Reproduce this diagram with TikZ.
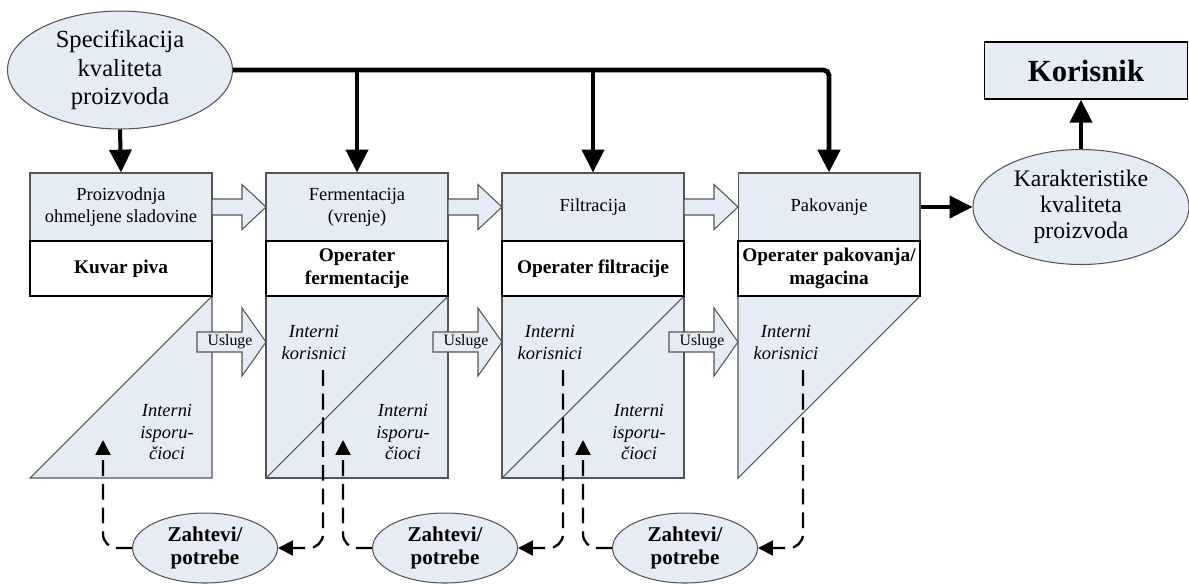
\documentclass[tikz,border=0pt]{standalone}
\usepackage{fontspec}
\setmainfont{Liberation Serif}
\usetikzlibrary{arrows.meta,positioning,calc,shapes.geometric}
\definecolor{boxfill}{RGB}{230,236,246}
\definecolor{boxline}{RGB}{85,85,85}
\tikzset{>=latex}
\tikzset{
  procbox/.style={draw=boxline, line width=0.6pt, fill=boxfill, minimum width=3.64cm, minimum height=1.36cm,
    inner sep=0pt, align=center, font=\fontsize{10.5}{12.5}\selectfont},
  oprbox/.style={draw=black, line width=1.5pt, fill=white, minimum width=3.64cm, minimum height=1.1cm,
    inner sep=0pt, align=center, font=\bfseries\fontsize{11}{13}\selectfont},
  lowpart/.style={draw=boxline, line width=0.6pt, fill=boxfill},
  blockarrow/.style={draw=boxline, line width=0.6pt, fill=boxfill},
  ellnode/.style={ellipse, draw=boxline, line width=0.6pt, fill=boxfill, inner sep=0pt, align=center},
  intxt/.style={align=center, font=\itshape\fontsize{10.5}{12.5}\selectfont},
  thickarrow/.style={line width=2.3pt, -{Triangle[length=13pt,width=12.5pt]}},
  dasharrow/.style={line width=1.3pt, dash pattern=on 9pt off 4.5pt, rounded corners=8pt,
    -{Triangle[length=8.5pt,width=8.5pt]}}
}

\begin{document}
\begin{tikzpicture}[x=0.02cm, y=-0.02cm]
    \useasboundingbox (0,0) rectangle (1189,583);

    % Lower parts of the columns
    \draw[lowpart] (212,296) -- (212,478) -- (30,478) -- cycle;
    \draw[lowpart] (266,296) rectangle (448,478);
    \draw[boxline, line width=0.6pt] (448,296) -- (266,478);
    \draw[lowpart] (502,296) rectangle (684,478);
    \draw[boxline, line width=0.6pt] (684,296) -- (502,478);
    \draw[lowpart] (738,296) -- (920,296) -- (738,478) -- cycle;

    % Process boxes
    \node[procbox] (proc1) at (121,207) {Proizvodnja\\ohmeljene sladovine};
    \node[procbox] (proc2) at (357,207) {Fermentacija\\(vrenje)};
    \node[procbox] (proc3) at (593,207) {Filtracija};
    \node[procbox] (proc4) at (829,207) {Pakovanje};

    % Operators
    \node[oprbox] (opr1) at (121,268.5) {Kuvar piva};
    \node[oprbox] (opr2) at (357,268.5) {Operater\\fermentacije};
    \node[oprbox] (opr3) at (593,268.5) {Operater filtracije};
    \node[oprbox] (opr4) at (829,268.5) {Operater pakovanja/\\magacina};

    % Internal customers and suppliers
    \node[intxt] (kor2) at (314,342) {Interni\\korisnici};
    \node[intxt] (kor3) at (550,342) {Interni\\korisnici};
    \node[intxt] (kor4) at (786,342) {Interni\\korisnici};
    \node[intxt] (isp1) at (167,432) {Interni\\isporu-\\čioci};
    \node[intxt] (isp2) at (403,432) {Interni\\isporu-\\čioci};
    \node[intxt] (isp3) at (639,432) {Interni\\isporu-\\čioci};

    % Block arrows between the process boxes
    \draw[blockarrow] (212,199) -- (242,199) -- (242,184.5) -- (266,207) -- (242,229.5) -- (242,215) -- (212,215) -- cycle;
    \draw[blockarrow] (448,199) -- (478,199) -- (478,184.5) -- (502,207) -- (478,229.5) -- (478,215) -- (448,215) -- cycle;
    \draw[blockarrow] (684,199) -- (714,199) -- (714,184.5) -- (738,207) -- (714,229.5) -- (714,215) -- (684,215) -- cycle;

    % Usluge arrows
    \draw[blockarrow] (197,332) -- (242,332) -- (242,308) -- (266,342) -- (242,376) -- (242,352) -- (197,352) -- cycle;
    \draw[blockarrow] (433,332) -- (478,332) -- (478,308) -- (502,342) -- (478,376) -- (478,352) -- (433,352) -- cycle;
    \draw[blockarrow] (669,332) -- (714,332) -- (714,308) -- (738,342) -- (714,376) -- (714,352) -- (669,352) -- cycle;
    \node[font=\fontsize{9}{10}\selectfont] (usl1) at (230,342) {Usluge};
    \node[font=\fontsize{9}{10}\selectfont] (usl2) at (466,342) {Usluge};
    \node[font=\fontsize{9}{10}\selectfont] (usl3) at (702,342) {Usluge};

    % Quality specification
    \node[ellnode, minimum width=4.5cm, minimum height=2.36cm, font=\fontsize{14}{16}\selectfont] (spec) at (120,70)
        {Specifikacija\\kvaliteta\\proizvoda};
    \draw[thickarrow] (spec.south) -- (proc1.north);
    \draw[thickarrow, line width=2.7pt, rounded corners=3pt] (spec.east) -- (proc4.north |- spec.east) -- (proc4.north);
    \draw[thickarrow] (proc2.north |- spec.east) -- (proc2.north);
    \draw[thickarrow] (proc3.north |- spec.east) -- (proc3.north);

    % Product characteristics and customer
    \node[ellnode, minimum width=4.32cm, minimum height=2.3cm, font=\fontsize{13.5}{14.7}\selectfont] (kar) at (1081,207)
        {Karakteristike\\kvaliteta\\proizvoda};
    \node[draw=black, line width=0.9pt, fill=boxfill, minimum width=4.06cm, minimum height=1.14cm, inner sep=0pt,
        font=\bfseries\fontsize{17.5}{20}\selectfont] (kupac) at (1086,70.5) {Korisnik};
    \draw[thickarrow] (proc4.east) -- (kar.west);
    \draw[thickarrow] (kar.north) -- (kar.north |- kupac.south);

    % Requirements / needs
    \node[ellnode, minimum width=2.9cm, minimum height=1.4cm, font=\bfseries\fontsize{12}{13}\selectfont] (zah1) at (205,548) {Zahtevi/\\potrebe};
    \node[ellnode, minimum width=2.9cm, minimum height=1.4cm, font=\bfseries\fontsize{12}{13}\selectfont] (zah2) at (445,548) {Zahtevi/\\potrebe};
    \node[ellnode, minimum width=2.9cm, minimum height=1.4cm, font=\bfseries\fontsize{12}{13}\selectfont] (zah3) at (685,548) {Zahtevi/\\potrebe};

    % Dashed feedback loops
    \coordinate (up1) at (103,440);
    \coordinate (up2) at (343,440);
    \coordinate (up3) at (583,440);
    \coordinate (dn2) at (323,370);
    \coordinate (dn3) at (563,370);
    \coordinate (dn4) at (803,370);
    \draw[dasharrow] (zah1.west) -| (up1);
    \draw[dasharrow] (zah2.west) -| (up2);
    \draw[dasharrow] (zah3.west) -| (up3);
    \draw[dasharrow] (dn2) |- (zah1.east);
    \draw[dasharrow] (dn3) |- (zah2.east);
    \draw[dasharrow] (dn4) |- (zah3.east);
\end{tikzpicture}
\end{document}
